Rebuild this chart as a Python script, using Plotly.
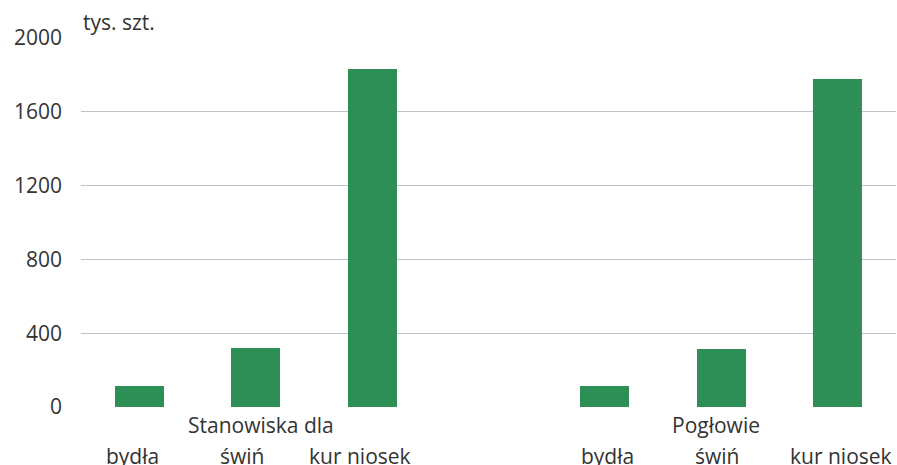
import plotly.graph_objects as go

groups = ["Stanowiska dla", "Pogłowie"]
animals = ["bydła", "świń", "kur niosek"]
stanowiska = [115, 320, 1832]
poglowie = [115, 312, 1778]
unit = "tys. szt."
y_ticks = [0, 400, 800, 1200, 1600, 2000]

GREEN = "#2e8f56"
TEXT = "#333333"
FONT = "Open Sans"

pos1 = [0, 1, 2]
pos2 = [4, 5, 6]

fig = go.Figure()
fig.add_trace(go.Bar(x=pos1, y=stanowiska, marker_color=GREEN, width=0.42,
                     marker_line_width=0, name=groups[0]))
fig.add_trace(go.Bar(x=pos2, y=poglowie, marker_color=GREEN, width=0.42,
                     marker_line_width=0, name=groups[1]))

ann = []
shifts1 = [-7, -14, -12]
shifts2 = [3, -4, 3]
for p, a, s in zip(pos1, animals, shifts1):
    ann.append(dict(x=p, y=0, xref="x", yref="paper", text=a, showarrow=False,
                    xanchor="center", yanchor="middle", yshift=-49, xshift=s))
for p, a, s in zip(pos2, animals, shifts2):
    ann.append(dict(x=p, y=0, xref="x", yref="paper", text=a, showarrow=False,
                    xanchor="center", yanchor="middle", yshift=-49, xshift=s))
ann.append(dict(x=pos1[1], y=0, xref="x", yref="paper", text=groups[0], showarrow=False,
                xanchor="center", yanchor="middle", yshift=-18, xshift=5))
ann.append(dict(x=pos2[1], y=0, xref="x", yref="paper", text=groups[1], showarrow=False,
                xanchor="center", yanchor="middle", yshift=-18, xshift=-5))
ann.append(dict(x=0, y=1, xref="paper", yref="paper", text=unit, showarrow=False,
                xanchor="left", yanchor="middle", yshift=16, xshift=0))

fig.update_layout(
    width=897, height=465,
    margin=dict(l=81, r=1, t=38, b=58, autoexpand=False),
    plot_bgcolor="white", paper_bgcolor="white",
    font=dict(family=FONT, size=21, color=TEXT),
    showlegend=False,
    bargap=0,
    annotations=ann,
    xaxis=dict(range=[-0.5, 6.5], showticklabels=False, showgrid=False,
               zeroline=False, showline=False, fixedrange=True, automargin=False),
    yaxis=dict(range=[0, 2000], tickvals=y_ticks, showgrid=True,
               gridcolor="#c2c2cc", gridwidth=1, zeroline=False, showline=False,
               ticks="", ticklabelstandoff=18, automargin=False,
               tickfont=dict(family=FONT, size=21, color=TEXT)),
)

fig.write_html(
    "out.html",
    config={"displayModeBar": False, "staticPlot": True},
    post_script="document.body.style.margin='0';document.body.style.overflow='hidden';",
)
